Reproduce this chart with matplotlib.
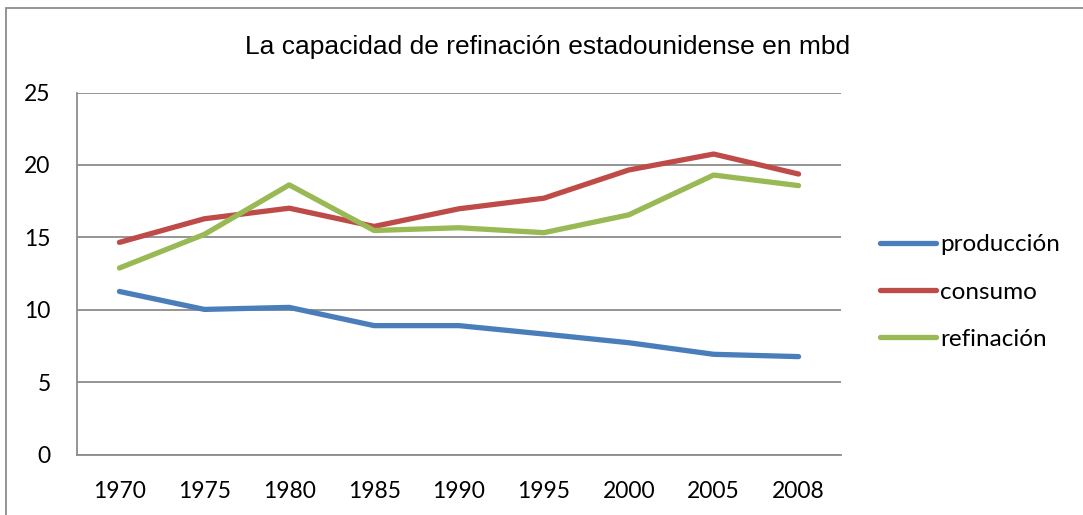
import matplotlib.pyplot as plt
from matplotlib.patches import Rectangle

years = ['1970', '1975', '1980', '1985', '1990', '1995', '2000', '2005', '2008']
produccion = [11.26, 10.02, 10.16, 8.9, 8.9, 8.32, 7.72, 6.92, 6.76]
consumo = [14.65, 16.28, 17.01, 15.75, 16.97, 17.7, 19.65, 20.75, 19.37]
refinacion = [12.88, 15.2, 18.62, 15.47, 15.66, 15.32, 16.55, 19.3, 18.57]

W, H = 1083, 515
fig = plt.figure(figsize=(W / 100, H / 100), dpi=100)

# outer chart border (right and bottom run off the picture)
fig.patches.append(Rectangle((6 / W, -0.1), 1.2, 1 - 8 / H + 0.1,
                             transform=fig.transFigure, fill=False,
                             edgecolor='#8c8c8c', linewidth=1.3))

ax = fig.add_axes([77 / W, (H - 454.5) / H, (841 - 77) / W, (454.5 - 92.5) / H])

x = range(len(years))
ax.plot(x, produccion, color='#4a7ebb', lw=3.8, solid_capstyle='round', label='producción')
ax.plot(x, consumo, color='#be4b48', lw=3.8, solid_capstyle='round', label='consumo')
ax.plot(x, refinacion, color='#98b954', lw=3.8, solid_capstyle='round', label='refinación')

ax.set_xlim(-0.5, len(years) - 0.5)
ax.set_ylim(0, 25)
ax.set_yticks([0, 5, 10, 15, 20, 25])
ax.set_xticks(list(x))
ax.set_xticklabels(years)
ax.yaxis.grid(True, color='#8c8c8c', lw=1.3)
ax.set_axisbelow(True)
for s in ['top', 'right']:
    ax.spines[s].set_visible(False)
for s in ['left', 'bottom']:
    ax.spines[s].set_color('#8c8c8c')
    ax.spines[s].set_linewidth(1.3)
ax.tick_params(length=0, labelsize=16.5)
ax.tick_params(axis='y', pad=19)
ax.tick_params(axis='x', pad=19)
for t in ax.get_xticklabels() + ax.get_yticklabels():
    t.set_fontfamily('Lato')

fig.text(548 / W, 1 - 47 / H, 'La capacidad de refinación estadounidense en mbd',
         ha='center', va='center', fontsize=19, family='Liberation Sans')

leg = ax.legend(loc='center left', bbox_to_anchor=(880 / W, 1 - 292 / H),
                bbox_transform=fig.transFigure, frameon=False,
                prop={'family': 'Lato', 'size': 17.5}, handlelength=2.3,
                handletextpad=0.16, labelspacing=1.07, borderpad=0,
                borderaxespad=0)

fig.savefig('out.png', dpi=100)
